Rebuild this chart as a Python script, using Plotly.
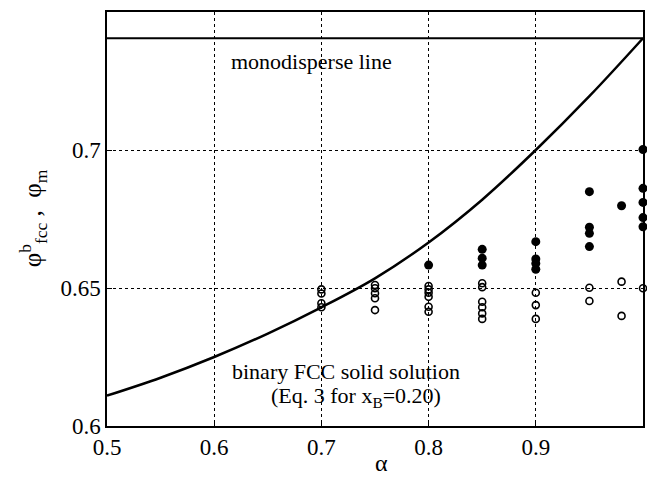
import plotly.graph_objects as go

# Binary FCC solid solution curve (Eq. 3 for x_B=0.20)
curve_alpha = [0.5, 0.55, 0.6, 0.65, 0.7, 0.75, 0.8, 0.85, 0.9, 0.95, 1.0]
curve_phi = [0.611, 0.6175, 0.625, 0.6335, 0.643, 0.6535, 0.6665, 0.682, 0.700, 0.7195, 0.7405]

# Monodisperse line
mono_alpha = [0.5, 1.0]
mono_phi = [0.7405, 0.7405]

# Filled circles
filled_alpha = [0.8, 0.85, 0.85, 0.85, 0.9, 0.9, 0.9, 0.9,
                0.95, 0.95, 0.95, 0.95, 0.98, 1.0, 1.0, 1.0, 1.0, 1.0]
filled_phi = [0.6583, 0.664, 0.6608, 0.6583, 0.6668, 0.6605, 0.6589, 0.6568,
              0.6849, 0.672, 0.6698, 0.665, 0.6798, 0.7002, 0.6861, 0.681, 0.6755, 0.6722]

# Open circles
open_alpha = [0.7, 0.7, 0.7, 0.7,
              0.75, 0.75, 0.75, 0.75, 0.75,
              0.8, 0.8, 0.8, 0.8, 0.8, 0.8,
              0.85, 0.85, 0.85, 0.85, 0.85, 0.85,
              0.9, 0.9, 0.9,
              0.95, 0.95, 0.98, 0.98, 1.0]
open_phi = [0.6495, 0.648, 0.6445, 0.643,
            0.6511, 0.6499, 0.6481, 0.6463, 0.642,
            0.6507, 0.6495, 0.6483, 0.6468, 0.6432, 0.6414,
            0.6517, 0.6503, 0.645, 0.643, 0.6408, 0.6388,
            0.6483, 0.6438, 0.6388,
            0.6501, 0.6453, 0.6523, 0.6399, 0.6499]

x_ticks = [0.5, 0.6, 0.7, 0.8, 0.9, 1.0]
x_ticklabels = ["0.5", "0.6", "0.7", "0.8", "0.9", "1"]
y_ticks = [0.6, 0.65, 0.7]
y_ticklabels = ["0.6", "0.65", "0.7"]

FONT = "Liberation Serif, Times New Roman, serif"

fig = go.Figure()
fig.add_trace(go.Scatter(x=curve_alpha, y=curve_phi, mode="lines",
                         line=dict(color="black", width=2.5, shape="spline"),
                         showlegend=False, hoverinfo="skip"))
fig.add_trace(go.Scatter(x=mono_alpha, y=mono_phi, mode="lines",
                         line=dict(color="black", width=2),
                         showlegend=False, hoverinfo="skip"))
fig.add_trace(go.Scatter(x=open_alpha, y=open_phi, mode="markers",
                         marker=dict(symbol="circle-open", size=7, color="black",
                                     line=dict(width=1.6, color="black")),
                         showlegend=False, cliponaxis=False))
fig.add_trace(go.Scatter(x=filled_alpha, y=filled_phi, mode="markers",
                         marker=dict(symbol="circle", size=9, color="black"),
                         showlegend=False, cliponaxis=False))

ann_font = dict(family=FONT, size=22, color="black")
fig.add_annotation(x=0.6903, y=0.7321, xref="x", yref="y", text="monodisperse line",
                   showarrow=False, font=ann_font, xanchor="center", yanchor="middle")
fig.add_annotation(x=0.7225, y=0.6196, xref="x", yref="y",
                   text="binary FCC solid solution",
                   showarrow=False, font=ann_font, xanchor="center", yanchor="middle")
fig.add_annotation(x=0.7323, y=0.6105, xref="x", yref="y",
                   text="(Eq. 3 for x<sub>B</sub>=0.20)",
                   showarrow=False, font=ann_font, xanchor="center", yanchor="middle")
# axis titles
fig.add_annotation(x=0.513, y=-0.09, xref="paper", yref="paper", text="α",
                   showarrow=False, font=dict(family=FONT, size=24, color="black"),
                   xanchor="center", yanchor="middle")
fig.add_annotation(x=-0.138, y=0.502, xref="paper", yref="paper",
                   text="φ<sup>b</sup><sub>fcc</sub> ,  φ<sub>m</sub>", textangle=-90,
                   showarrow=False, font=dict(family=FONT, size=25, color="black"),
                   xanchor="center", yanchor="middle")

fig.update_xaxes(range=[0.5, 1.0], tickvals=x_ticks, ticktext=x_ticklabels,
                 showgrid=True, gridcolor="black", griddash="dot", gridwidth=1,
                 showline=True, linecolor="black", linewidth=1.5, mirror=True,
                 ticks="inside", ticklen=5, tickcolor="black",
                 tickfont=dict(family=FONT, size=23, color="black"),
                 automargin=False, zeroline=False)
fig.update_yaxes(range=[0.6, 0.75], tickvals=y_ticks, ticktext=y_ticklabels,
                 showgrid=True, gridcolor="black", griddash="dot", gridwidth=1,
                 showline=True, linecolor="black", linewidth=1.5, mirror=True,
                 ticks="inside", ticklen=5, tickcolor="black",
                 tickfont=dict(family=FONT, size=23, color="black"),
                 automargin=False, zeroline=False)

fig.update_layout(width=647, height=477, plot_bgcolor="white", paper_bgcolor="white",
                  margin=dict(l=107, r=4, t=12, b=51))

# remove the default page margin so the figure fills the 647x477 window exactly
fig.write_html("out.html", config={"displayModeBar": False},
               post_script="document.body.style.margin='0';document.body.style.overflow='hidden';")
